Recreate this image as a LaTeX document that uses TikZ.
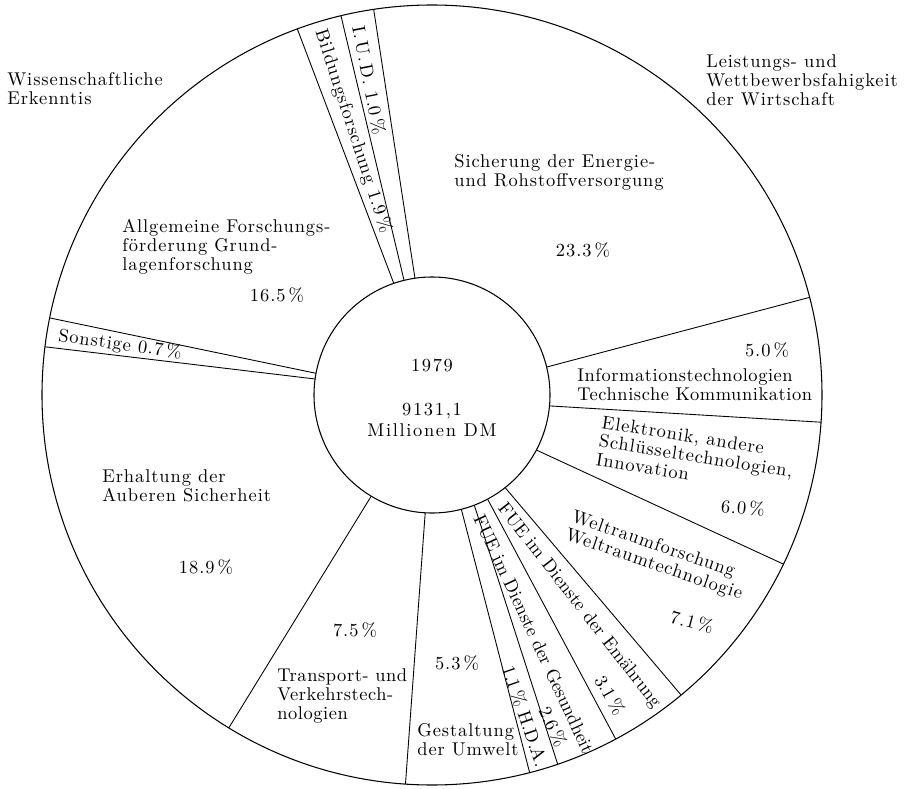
\documentclass[tikz,border=0pt]{standalone}
\usepackage{fontspec}
\setmainfont{lmroman10-regular.otf}
\begin{document}
\begin{tikzpicture}[
    lbl/.style={font=\fontsize{10.5}{10.8}\selectfont\addfontfeature{LetterSpace=5}, inner sep=0pt},
    narrow/.style={font=\fontsize{10.5}{10.8}\selectfont\addfontfeature{LetterSpace=3}, inner sep=0pt},
    tight/.style={font=\fontsize{10.5}{10.8}\selectfont, inner sep=0pt},
    wide/.style={font=\fontsize{10.5}{11.5}\selectfont\addfontfeature{LetterSpace=9}, inner sep=0pt},
    blk/.style={lbl, align=left, anchor=west}
  ]
  \useasboundingbox (-8.64,-7.86) rectangle (9.52,7.9);
  % rings
  \draw[line width=0.6pt] (0,0) circle (7.8);
  \foreach \i/\o in {98.3/98.6, 103.7/103.5, 108.9/110.2, 13.7/14.5, -5.3/-4.0, -27.8/-25.7,
      -51.7/-50.3, -61.9/-61.9, -69/-71.2, -75.6/-75.5, -93.3/-93.9, -121/-121.4,
      172.2/172.9, 169.4/168.6}
    \draw[line width=0.5pt] (\i:2.36) -- (\o:7.8);
  \draw[line width=0.6pt, fill=white] (0,0) circle (2.36);
  % centre
  \node[wide] (year) at (0,0.6) {1979};
  \node[wide, align=center] (total) at (0,-0.5) {9131,1\\Millionen DM};
  % outside groups
  \node[blk] (wiss) at (-8.5,6.12) {Wissenschaftliche\\Erkenntis};
  \node[blk] (leist) at (5.48,6.3) {Leistungs- und\\Wettbewerbsfahigkeit\\der Wirtschaft};
  % slices
  \node[blk] (energie) at (0.44,4.46) {Sicherung der Energie-\\und Rohstoffversorgung};
  \node[lbl] (p233) at (3.02,2.9) {23.3\,\%};
  \node[lbl, rotate=-79] (iud) at (-1.26,6.3) {I.\,U.\,D. 1.0\,\%};
  \node[lbl, rotate=-72] (bild) at (-1.58,5.28) {Bildungsforschung 1.9\,\%};
  \node[blk] (allg) at (-6.2,2.96) {Allgemeine Forschungs-\\förderung Grund-\\lagenforschung};
  \node[lbl] (p165) at (-3.1,2.0) {16.5\,\%};
  \node[lbl, rotate=-8] (sonst) at (-6.24,1.0) {Sonstige 0.7\,\%};
  \node[lbl] (p50) at (6.7,0.9) {5.0\,\%};
  \node[narrow, align=left, anchor=west] (info) at (2.9,0.2) {Informationstechnologien\\Technische Kommunikation};
  \node[lbl, align=left, rotate=-9] (elek) at (5.28,-1.22) {Elektronik, andere\\Schlüsseltechnologien,\\Innovation};
  \node[lbl, rotate=-5] (p60) at (6.22,-2.26) {6.0\,\%};
  \node[lbl, align=left, rotate=-19] (welt) at (4.5,-3.22) {Weltraumforschung\\Weltraumtechnologie};
  \node[lbl, rotate=-15] (p71) at (5.2,-4.54) {7.1\,\%};
  \node[tight, rotate=-52] (ern) at (2.94,-4.22) {FUE im Dienste der Emährung};
  \node[tight, rotate=-60] (p31) at (3.56,-6.0) {3.1\,\%};
  \node[tight, rotate=-65] (ges) at (2.04,-4.78) {FUE im Dienste der Gesundheit};
  \node[tight, rotate=-65] (p26) at (2.42,-6.64) {2.6\,\%};
  \node[tight, rotate=-71] (hda) at (1.86,-6.42) {1.1\,\% H.D.A.};
  \node[lbl] (p53) at (0.5,-5.36) {5.3\,\%};
  \node[blk] (umw) at (-0.3,-6.9) {Gestaltung\\der Umwelt};
  \node[lbl] (p75) at (-1.54,-4.7) {7.5\,\%};
  \node[narrow, align=left, anchor=west] (trans) at (-3.1,-6.02) {Transport- und\\Verkehrstech-\\nologien};
  \node[blk] (erh) at (-6.6,-1.82) {Erhaltung der\\Auberen Sicherheit};
  \node[lbl] (p189) at (-4.52,-3.44) {18.9\,\%};
\end{tikzpicture}
\end{document}
